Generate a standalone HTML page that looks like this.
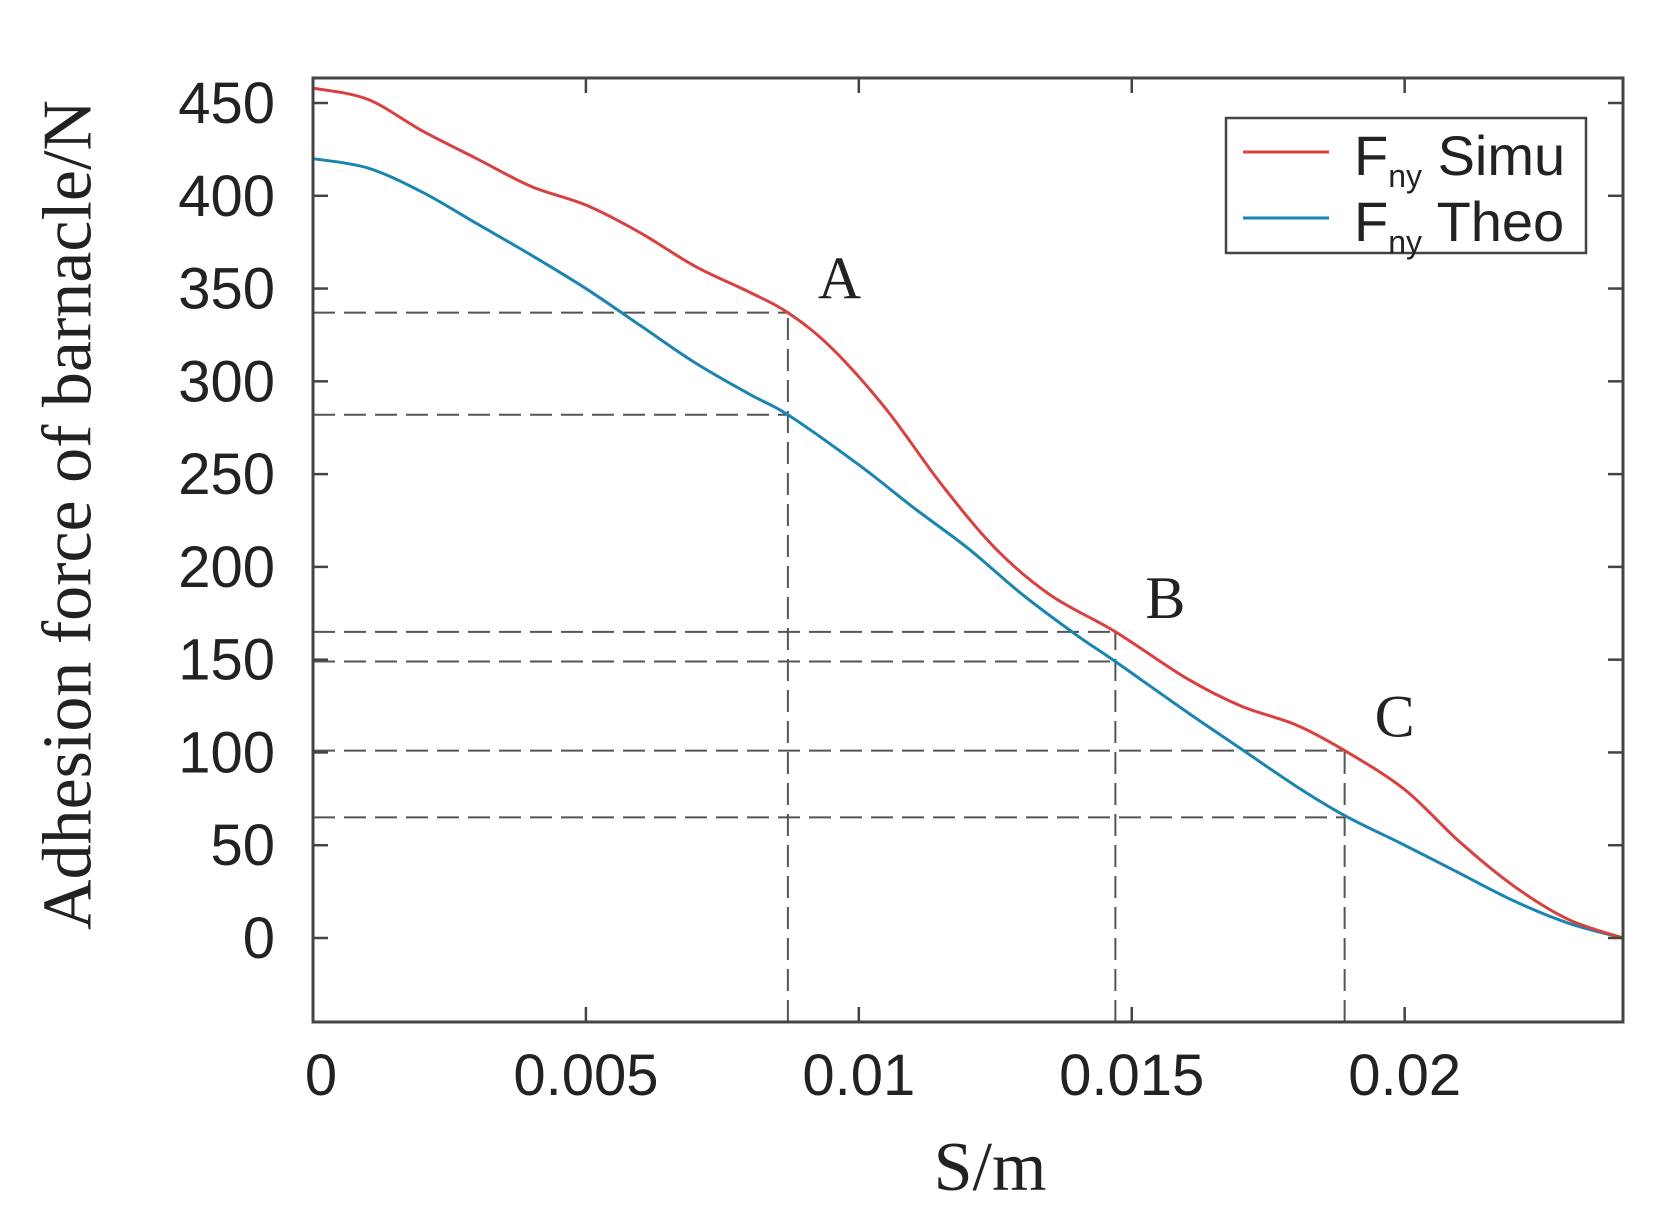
<!DOCTYPE html>
<html><head><meta charset="utf-8"><style>
html,body{margin:0;padding:0;background:#fff;}
svg{display:block;}
</style></head><body>
<svg id="chart" width="1675" height="1231" viewBox="0 0 1675 1231" xmlns="http://www.w3.org/2000/svg">
<g id="guides"></g>
<g id="series"></g>
<g id="axes"></g>
<text x="68" y="515" transform="rotate(-90 68 515)" text-anchor="middle" dominant-baseline="central" font-family="Liberation Serif, serif" font-size="70" fill="#222">Adhesion force of  barnacle/N</text>
<text x="990" y="1190" text-anchor="middle" font-family="Liberation Serif, serif" font-size="70" fill="#222">S/m</text>
<g id="legend">
<rect x="1226" y="118" width="360" height="135" fill="#fff" stroke="#444" stroke-width="2.5"/>
<line x1="1243" y1="152" x2="1329" y2="152" stroke="#d94040" stroke-width="3"/>
<text x="1354" y="175" font-family="Liberation Sans, sans-serif" font-size="56" fill="#222">F<tspan font-size="32" dy="12">ny</tspan><tspan dy="-12"> Simu</tspan></text>
<line x1="1243" y1="218" x2="1329" y2="218" stroke="#1a85b0" stroke-width="3"/>
<text x="1354" y="241" font-family="Liberation Sans, sans-serif" font-size="56" fill="#222">F<tspan font-size="32" dy="12">ny</tspan><tspan dy="-12"> Theo</tspan></text>
</g>
</svg>
<script>
const simuX=[0,0.001,0.002,0.003,0.004,0.005,0.006,0.007,0.008,0.0087,0.0095,0.0105,0.0115,0.0125,0.0135,0.0147,0.016,0.017,0.018,0.0189,0.020,0.021,0.022,0.023,0.024];
const simuY=[458,452,435,420,405,395,380,362,348,337,318,285,245,210,185,165,140,125,115,101,80,52,28,10,0];
const theoX=[0,0.001,0.002,0.003,0.004,0.005,0.006,0.007,0.008,0.0087,0.010,0.011,0.012,0.013,0.014,0.0147,0.016,0.017,0.018,0.0189,0.020,0.021,0.022,0.023,0.024];
const theoY=[420,415,402,385,368,350,330,310,293,282,255,232,210,185,163,149,122,102,82,66,50,35,20,8,0];
const yTicks=[0,50,100,150,200,250,300,350,400,450];
const xTicks=[0,0.005,0.01,0.015,0.02];
const xTickLabels=["0","0.005","0.01","0.015","0.02"];
const markX=[0.0087,0.0147,0.0189];
const markSimu=[337,165,101];
const markTheo=[282,149,65];
const markLabels=["A","B","C"];

const L=313,R=1623,T=78,B=1022;
const xMax=0.024;
const sx=v=>L+v/xMax*(R-L);
const sy=v=>938-v*(938-103)/450;
const NS="http://www.w3.org/2000/svg";
function mk(tag,attrs,parent){const e=document.createElementNS(NS,tag);for(const k in attrs)e.setAttribute(k,attrs[k]);parent.appendChild(e);return e;}

function smooth(xs,ys){
  const p=xs.map((x,i)=>[sx(x),sy(ys[i])]);
  let d="M"+p[0][0]+","+p[0][1];
  for(let i=0;i<p.length-1;i++){
    const p0=p[i-1]||p[i],p1=p[i],p2=p[i+1],p3=p[i+2]||p2;
    const c1=[p1[0]+(p2[0]-p0[0])/6,p1[1]+(p2[1]-p0[1])/6];
    const c2=[p2[0]-(p3[0]-p1[0])/6,p2[1]-(p3[1]-p1[1])/6];
    d+=" C"+c1[0]+","+c1[1]+" "+c2[0]+","+c2[1]+" "+p2[0]+","+p2[1];
  }
  return d;
}
const guides=document.getElementById('guides');
markX.forEach((mx,i)=>{
  const ls=[[sx(mx),B,sx(mx),sy(markSimu[i])],[L,sy(markSimu[i]),sx(mx),sy(markSimu[i])],[L,sy(markTheo[i]),sx(mx),sy(markTheo[i])]];
  ls.forEach(c=>{
    const e=mk('line',{x1:c[0],y1:c[1],x2:c[2],y2:c[3],stroke:'#555','stroke-width':2,'stroke-dasharray':'22,9'},guides);
    
    
  });
  const t=mk('text',{x:sx(mx)+30,y:sy(markSimu[i])-14,'font-family':'Liberation Serif, serif','font-size':60,fill:'#222'},guides);
  t.textContent=markLabels[i];
  
  
});
const series=document.getElementById('series');
const th=mk('path',{d:smooth(theoX,theoY),fill:'none',stroke:'#1a85b0','stroke-width':3},series);


const si=mk('path',{d:smooth(simuX,simuY),fill:'none',stroke:'#d94040','stroke-width':3},series);



const axes=document.getElementById('axes');
const fr=mk('rect',{x:L,y:T,width:R-L,height:B-T,fill:'none',stroke:'#444','stroke-width':3},axes);


yTicks.forEach(v=>{
  const y=sy(v);
  mk('line',{x1:L,y1:y,x2:L+15,y2:y,stroke:'#444','stroke-width':2.5},axes);
  mk('line',{x1:R,y1:y,x2:R-15,y2:y,stroke:'#444','stroke-width':2.5},axes);
  const t=mk('text',{x:L-38,y:y+20,'text-anchor':'end','font-family':'Liberation Sans, sans-serif','font-size':58,fill:'#222'},axes);
  t.textContent=String(v);
  
  
});
xTicks.forEach((v,i)=>{
  const x=sx(v);
  mk('line',{x1:x,y1:B,x2:x,y2:B-15,stroke:'#444','stroke-width':2.5},axes);
  mk('line',{x1:x,y1:T,x2:x,y2:T+15,stroke:'#444','stroke-width':2.5},axes);
  const t=mk('text',{x:x+(i===0?8:0),y:1095,'text-anchor':'middle','font-family':'Liberation Sans, sans-serif','font-size':58,fill:'#222'},axes);
  t.textContent=xTickLabels[i];
  
  
});
</script>
</body></html>
